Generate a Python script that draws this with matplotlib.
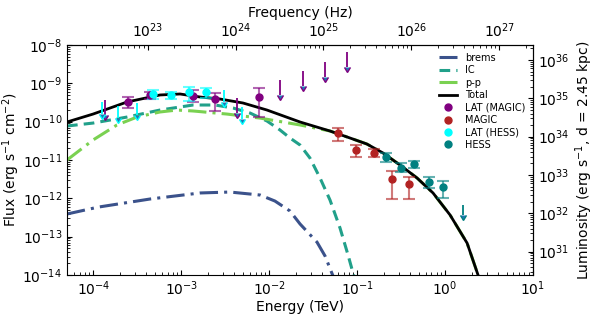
import numpy as np
import matplotlib
matplotlib.use("Agg")
import matplotlib.pyplot as plt

# ---------------- data (Energy in TeV, Flux in erg s^-1 cm^-2) ----------------
total_E = [5.0e-5, 9.9e-5, 2.41e-4, 5.71e-4, 9.66e-4, 1.63e-3, 2.75e-3, 5.02e-3, 9.42e-3,
           2.24e-2, 4.91e-2, 8.28e-2, 0.129, 0.197, 0.307, 0.480, 0.729, 1.14, 1.78, 2.37, 2.92]
total_F = [9.8e-11, 1.58e-10, 3.26e-10, 4.97e-10, 5.27e-10, 4.40e-10, 3.90e-10, 3.07e-10, 2.01e-10,
           9.8e-11, 5.7e-11, 3.75e-11, 2.61e-11, 1.52e-11, 7.4e-12, 3.39e-12, 1.38e-12, 3.67e-13,
           6.8e-14, 1.0e-14, 1.2e-15]

ic_E = [5.0e-5, 9.9e-5, 2.41e-4, 5.71e-4, 1.36e-3, 2.42e-3, 3.87e-3, 6.04e-3, 9.42e-3, 1.32e-2,
        1.72e-2, 2.24e-2, 2.90e-2, 3.78e-2, 4.91e-2, 6.38e-2, 7.87e-2, 9.44e-2]
ic_F = [7.7e-11, 9.2e-11, 1.32e-10, 2.01e-10, 2.72e-10, 2.72e-10, 2.27e-10, 1.68e-10, 1.04e-10,
        6.1e-11, 3.75e-11, 2.46e-11, 1.13e-11, 3.39e-12, 9.0e-13, 1.68e-13, 3.32e-14, 7.4e-15]

brems_E = [5.0e-5, 1.13e-4, 4.40e-4, 1.63e-3, 3.57e-3, 7.85e-3, 1.16e-2, 1.72e-2, 2.24e-2,
           3.49e-2, 4.31e-2, 5.31e-2, 6.05e-2]
brems_F = [3.9e-13, 5.9e-13, 9.6e-13, 1.38e-12, 1.46e-12, 1.22e-12, 8.5e-13, 4.67e-13, 2.14e-13,
           7.2e-14, 3.13e-14, 9.4e-15, 4.1e-15]

pp_E = [5.0e-5, 7.03e-5, 9.9e-5, 1.85e-4, 3.13e-4, 5.71e-4, 8.91e-4, 1.36e-3, 3.30e-3, 7.85e-3,
        2.24e-2, 4.91e-2, 8.28e-2, 0.129, 0.197, 0.307, 0.480, 0.729, 1.14, 1.78, 2.37, 2.92]
pp_F = [1.0e-11, 1.82e-11, 3.33e-11, 8.2e-11, 1.32e-10, 1.79e-10, 2.01e-10, 1.90e-10, 1.58e-10,
        1.24e-10, 8.2e-11, 5.7e-11, 3.75e-11, 2.61e-11, 1.52e-11, 7.4e-12, 3.39e-12, 1.38e-12,
        3.67e-13, 6.8e-14, 1.0e-14, 1.2e-15]

# LAT (MAGIC)
latm_E = [2.47e-4, 4.40e-4, 1.36e-3, 2.42e-3, 7.64e-3]
latm_F = [3.26e-10, 4.97e-10, 4.67e-10, 3.90e-10, 4.40e-10]
latm_hi = [4.40e-10, 5.94e-10, 6.70e-10, 5.60e-10, 7.55e-10]
latm_lo = [2.27e-10, 3.90e-10, 3.26e-10, 1.90e-10, 1.32e-10]
latm_ul_E = [1.35e-4, 4.30e-3, 1.32e-2, 2.42e-2, 4.31e-2, 7.66e-2]
latm_ul_F = [3.67e-10, 4.14e-10, 1.22e-9, 2.10e-9, 3.60e-9, 6.56e-9]

# MAGIC
magic_E = [6.05e-2, 9.70e-2, 0.156, 0.249, 0.389]
magic_F = [5.06e-11, 1.82e-11, 1.52e-11, 3.19e-12, 2.37e-12]
magic_hi = [6.8e-11, 2.46e-11, 1.94e-11, 5.2e-12, 3.6e-12]
magic_lo = [3.13e-11, 1.20e-11, 1.20e-11, 9.6e-13, 9.6e-13]

# LAT (HESS)
lath_E = [4.75e-4, 7.62e-4, 1.22e-3, 1.91e-3]
lath_F = [5.27e-10, 4.97e-10, 5.94e-10, 5.94e-10]
lath_hi = [6.70e-10, 5.94e-10, 8.02e-10, 7.55e-10]
lath_lo = [3.90e-10, 3.90e-10, 3.46e-10, 4.14e-10]
lath_ul_E = [1.25e-4, 1.90e-4, 3.13e-4, 3.05e-3, 4.90e-3]
lath_ul_F = [3.26e-10, 2.56e-10, 3.07e-10, 6.70e-10, 2.41e-10]

# HESS
hess_E = [0.213, 0.316, 0.444, 0.656, 0.948]
hess_F = [1.20e-11, 6.2e-12, 7.9e-12, 2.67e-12, 1.97e-12]
hess_hi = [1.52e-11, 8.3e-12, 9.4e-12, 3.6e-12, 2.83e-12]
hess_lo = [8.9e-12, 4.9e-12, 6.2e-12, 1.86e-12, 1.02e-12]
hess_ul_E = [1.60]
hess_ul_F = [6.7e-13]

TEV_TO_HZ = 2.418e26
LUM_FACTOR = 2.46e44   # erg s^-1 per (erg s^-1 cm^-2)

# ---------------- plotting ----------------
plt.rcParams['font.family'] = ['DejaVu Sans']
fig = plt.figure(figsize=(5.93, 3.15), dpi=100)
ax = fig.add_axes([67/593, 1-275/315, 466/593, 230/315])

c_brems = '#3b528b'
c_ic = '#21a08a'
c_pp = '#7ad151'

ax.plot(brems_E, brems_F, color=c_brems, lw=2.2, ls=(0, (6, 2, 1, 2)), label='brems')
ax.plot(ic_E, ic_F, color=c_ic, lw=2.2, ls=(0, (3.5, 2)), label='IC')
ax.plot(pp_E, pp_F, color=c_pp, lw=2.2, ls=(0, (6, 2, 1, 2)), label='p-p')
ax.plot(total_E, total_F, color='black', lw=2.0, label='Total')


def pts(E, F, hi, lo, color, label):
    E = np.array(E); F = np.array(F)
    yerr = [F - np.array(lo), np.array(hi) - F]
    ax.errorbar(E, F, yerr=yerr, fmt='none', ecolor=color, elinewidth=1.5,
                capsize=4.5, capthick=1.5, alpha=0.6, zorder=4)
    ax.plot(E, F, 'o', color=color, ms=5, label=label, zorder=5, mec=color)


def uls(E, F, frac, color):
    E = np.array(E); F = np.array(F)
    with plt.rc_context({'lines.markersize': 4.5}):
        ax.errorbar(E, F, yerr=[F * frac, np.zeros_like(F)], uplims=True, fmt='none',
                    ecolor=color, elinewidth=1.3, capsize=0, zorder=4)


pts(latm_E, latm_F, latm_hi, latm_lo, 'purple', 'LAT (MAGIC)')
uls(latm_ul_E, latm_ul_F, 0.6, 'purple')
pts(magic_E, magic_F, magic_hi, magic_lo, '#b22222', 'MAGIC')
pts(lath_E, lath_F, lath_hi, lath_lo, 'cyan', 'LAT (HESS)')
uls(lath_ul_E, lath_ul_F, 0.5, 'cyan')
pts(hess_E, hess_F, hess_hi, hess_lo, 'teal', 'HESS')
uls(hess_ul_E, hess_ul_F, 0.45, 'teal')

ax.set_xscale('log')
ax.set_yscale('log')
ax.set_xlim(5e-5, 10)
ax.set_ylim(1e-14, 1e-8)
ax.set_xlabel('Energy (TeV)', fontsize=10, labelpad=1)
ax.set_ylabel(r'Flux (erg s$^{-1}$ cm$^{-2}$)', fontsize=10, labelpad=0)
ax.tick_params(which='both', direction='in', labelsize=10)

secx = ax.secondary_xaxis('top', functions=(lambda e: e * TEV_TO_HZ, lambda f: f / TEV_TO_HZ))
secx.set_xlabel('Frequency (Hz)', fontsize=10, labelpad=3)
secx.tick_params(which='both', direction='in', labelsize=10)

secy = ax.secondary_yaxis('right', functions=(lambda f: f * LUM_FACTOR, lambda l: l / LUM_FACTOR))
secy.set_ylabel(r'Luminosity (erg s$^{-1}$, d = 2.45 kpc)', fontsize=10, labelpad=3)
secy.tick_params(which='both', direction='in', labelsize=10)

leg = ax.legend(loc='upper right', frameon=False, fontsize=7, numpoints=1,
                handlelength=1.9, labelspacing=0.25, borderaxespad=0.4, handletextpad=0.8)

fig.savefig('out.png', dpi=100)
